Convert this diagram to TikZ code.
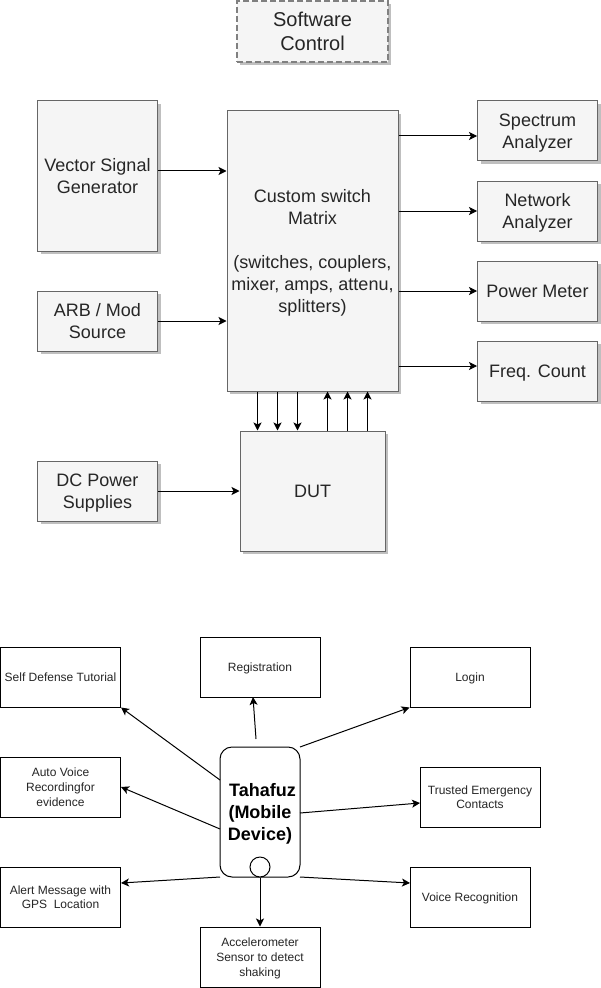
\documentclass[tikz,border=0pt]{standalone}
\usepackage{fontspec}
\setmainfont{Liberation Sans}
\usetikzlibrary{shadows,arrows.meta}
\tikzset{
  wh/.style 2 args={minimum width=#1*0.75pt,minimum height=#2*0.75pt},
  gbox/.style={draw=black!60,fill=black!4,line width=.75pt,inner sep=0pt,align=center,text depth=0pt,
    text=black!85,font=\fontsize{13.5pt}{16.5pt}\selectfont,
    drop shadow={shadow xshift=2.25pt,shadow yshift=-2.25pt,fill=black,opacity=.25}},
  wbox/.style={draw=black,fill=white,line width=.75pt,inner sep=0pt,align=center,text depth=0pt,
    text=black!85,font=\fontsize{9pt}{11pt}\selectfont,wh={120}{60}},
  arr/.style={draw=black,line width=.75pt,-{Stealth[length=6pt,width=6pt,inset=1.5pt]}},
}
\begin{document}
\begin{tikzpicture}[x=0.75pt,y=-0.75pt]
\useasboundingbox[fill=white] (0,0) rectangle (600,988);
% top diagram
\node[gbox,wh={151}{61},draw=black!50,dash pattern=on 4.5pt off 2.25pt,line width=1.5pt,font=\fontsize{15pt}{18pt}\selectfont] (sw) at (312.5,31.5) {Software\\Control};
\node[gbox,wh={120}{150}] (vsg) at (97.5,176) {Vector Signal\\Generator};
\node[gbox,wh={120}{60}] (arb) at (97.5,321) {ARB / Mod\\Source};
\node[gbox,wh={120}{60}] (dc) at (97.5,491) {DC Power\\Supplies};
\node[gbox,wh={171}{280}] (mx) at (312.5,251) {Custom switch\\Matrix\\[16.5pt](switches, couplers,\\mixer, amps, attenu,\\splitters)};
\node[gbox,wh={145}{120}] (dut) at (312.5,491) {DUT};
\node[gbox,wh={120}{60}] (spec) at (537.5,131) {Spectrum\\Analyzer};
\node[gbox,wh={120}{60}] (net) at (537.5,211) {Network\\Analyzer};
\node[gbox,wh={120}{60}] (pow) at (537.5,291) {Power Meter};
\node[gbox,wh={120}{60}] (freq) at (537.5,371) {Freq. Count};
\coordinate (y1) at (0,171);
\coordinate (y2) at (0,136);
\coordinate (y3) at (0,211);
\coordinate (y4) at (0,291);
\coordinate (y5) at (0,366);
\draw[arr] (vsg.east |- y1) -- (mx.west |- y1);
\draw[arr] (arb.east) -- (mx.west |- arb.east);
\draw[arr] (dc.east) -- (dut.west);
\draw[arr] (mx.east |- y2) -- (spec.west |- y2);
\draw[arr] (mx.east |- y3) -- (net.west |- y3);
\draw[arr] (mx.east |- y4) -- (pow.west |- y4);
\draw[arr] (mx.east |- y5) -- (freq.west |- y5);
\foreach \px in {257.5,277.5,297.5}{
  \coordinate (dn) at (\px,0);
  \draw[arr] (mx.south -| dn) -- (dut.north -| dn);
}
\foreach \px in {327.5,347.5,367.5}{
  \coordinate (up) at (\px,0);
  \draw[arr] (dut.north -| up) -- (mx.south -| up);
}
% bottom diagram
\node[wbox] (selfdef) at (60.5,677) {Self Defense Tutorial};
\node[wbox] (reg) at (260,667) {Registration};
\node[wbox] (login) at (470,677) {Login};
\node[wbox] (auto) at (60.5,787) {Auto Voice\\Recordingfor\\evidence};
\node[wbox] (trust) at (480,797) {Trusted Emergency\\Contacts};
\node[wbox] (alert) at (60.5,897) {Alert Message with\\GPS\ \ Location};
\node[wbox] (voice) at (470,897) {Voice Recognition};
\node[wbox] (accel) at (260,957) {Accelerometer\\Sensor to detect\\shaking};
\node[draw=black,fill=white,line width=.75pt,rounded corners=9pt,wh={80}{130},inner sep=0pt,align=center,text depth=0pt,
  font=\fontsize{13.5pt}{16.2pt}\selectfont\bfseries] (phone) at (260,812) {~Tahafuz\\(Mobile\\Device)};
\node[draw=black,fill=white,line width=.75pt,circle,minimum size=15pt,inner sep=0pt] (btn) at (260,867) {};
\coordinate (a1) at (220,780);
\coordinate (a2) at (256,739);
\coordinate (a3) at (300,747);
\coordinate (a4) at (220,829);
\coordinate (a5) at (300,813);
\coordinate (a6) at (220,877);
\coordinate (a7) at (300,877);
\draw[arr] (a1) -- (selfdef.south east);
\draw[arr] (a2) -- (253,697);
\draw[arr] (a3) -- (login.south west);
\draw[arr] (a4) -- (auto.east);
\draw[arr] (a5) -- (420,803);
\draw[arr] (a6) -- (121,883);
\draw[arr] (a7) -- (410,883);
\draw[arr] (phone.south) -- (accel.north);
\end{tikzpicture}
\end{document}
